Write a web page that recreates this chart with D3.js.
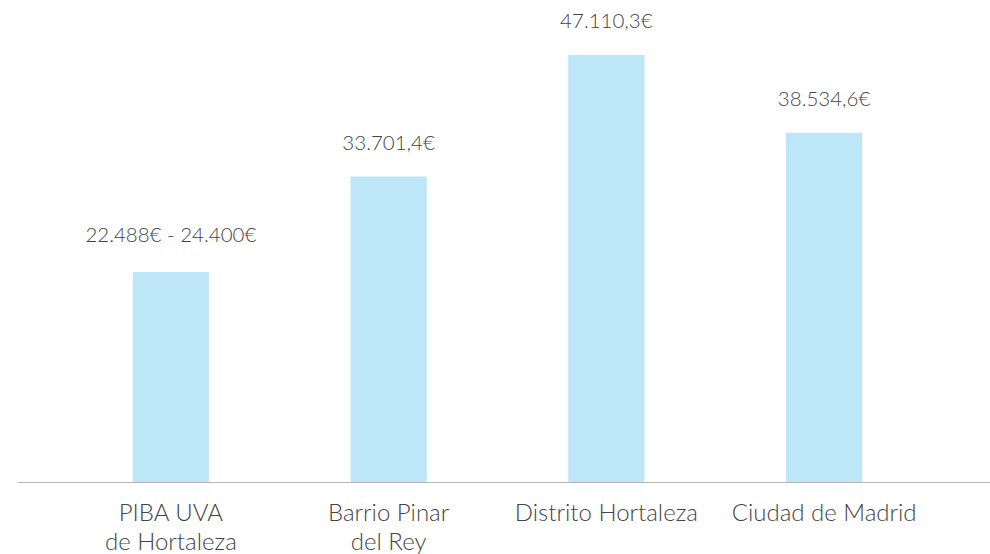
<!DOCTYPE html>
<html>
<head>
<meta charset="utf-8">
<script src="https://cdn.jsdelivr.net/npm/d3@7"></script>
<style>
  body { margin: 0; background: #fff; }
  text { font-family: Lato, "Open Sans", sans-serif; font-weight: 300; fill: #444; }
</style>
</head>
<body>
<div id="chart"></div>
<script>
var categories = [["PIBA UVA", "de Hortaleza"], ["Barrio Pinar", "del Rey"], ["Distrito Hortaleza"], ["Ciudad de Madrid"]];
var values = [23170, 33701.4, 47110.3, 38534.6];
var valueLabels = ["22.488€ - 24.400€", "33.701,4€", "47.110,3€", "38.534,6€"];

var width = 990,
    height = 554,
    svg = d3.select('#chart')
        .append('svg')
        .attr('width', width)
        .attr('height', height);

var x = d3.scaleBand()
        .domain(d3.range(values.length))
        .range([62, 933])
        .paddingInner(0.65)
        .paddingOuter(0.325),
    y = d3.scaleLinear()
        .domain([0, d3.max(values)])
        .range([482, 55]);

svg.selectAll('rect.bar')
    .data(values)
    .enter()
    .append('rect')
    .attr('class', 'bar')
    .attr('x', function (d, i) { return x(i); })
    .attr('y', function (d) { return y(d); })
    .attr('width', x.bandwidth())
    .attr('height', function (d) { return y(0) - y(d); })
    .attr('fill', '#bde6f8');

// baseline
svg.append('line')
    .attr('x1', 18).attr('x2', width)
    .attr('y1', y(0) + 0.5).attr('y2', y(0) + 0.5)
    .attr('stroke', '#b5b5b5')
    .attr('stroke-width', 1);

svg.selectAll('text.value')
    .data(values)
    .enter()
    .append('text')
    .attr('class', 'value')
    .attr('x', function (d, i) { return x(i) + x.bandwidth() / 2; })
    .attr('y', function (d, i) { return y(d) - (i === 0 ? 30 : 27); })
    .attr('text-anchor', 'middle')
    .style('font-size', '20.5px')
    .text(function (d, i) { return valueLabels[i]; });

var cat = svg.selectAll('text.cat')
    .data(categories)
    .enter()
    .append('text')
    .attr('class', 'cat')
    .attr('text-anchor', 'middle')
    .style('font-size', '24px');

cat.selectAll('tspan')
    .data(function (d, i) { return d.map(function (t) { return {t: t, i: i}; }); })
    .enter()
    .append('tspan')
    .attr('x', function (d) { return x(d.i) + x.bandwidth() / 2; })
    .attr('y', function (d, j) { return 521 + j * 29; })
    .text(function (d) { return d.t; });
</script>
</body>
</html>
